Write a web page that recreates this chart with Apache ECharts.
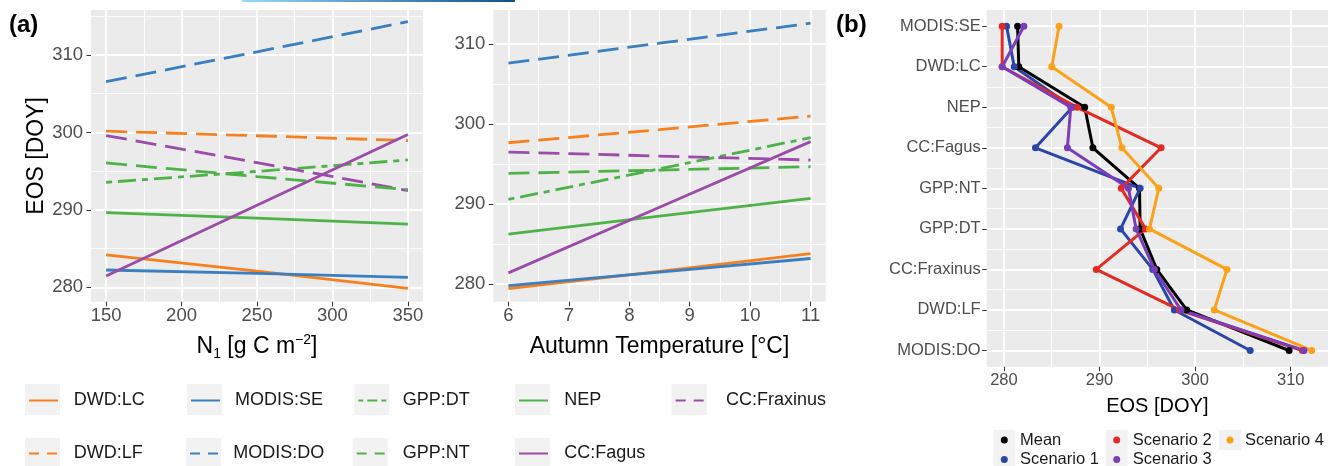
<!DOCTYPE html>
<html>
<head>
<meta charset="utf-8">
<script src="https://cdn.jsdelivr.net/npm/echarts@6.0.0/dist/echarts.min.js"></script>
<style>
  html, body { margin: 0; padding: 0; background: #fff; }
  #chart { width: 1328px; height: 466px; }
</style>
</head>
<body>
<div id="chart"></div>
<script>
// ---- panel (a), left: EOS vs N1 ----
const n1X = [150, 250, 350];
const n1DwdLc = [284.2, 282.1, 279.87];
const n1ModisSe = [282.24, 281.8, 281.3];
const n1GppDt = [293.55, 294.97, 296.45];
const n1Nep = [289.66, 288.94, 288.16];
const n1CcFraxinus = [299.6, 296.1, 292.5];
const n1DwdLf = [300.16, 299.57, 298.95];
const n1ModisDo = [306.55, 310.4, 314.3];
const n1GppNt = [296.06, 294.3, 292.6];
const n1CcFagus = [281.47, 290.6, 299.73];

// ---- panel (a), right: EOS vs autumn temperature ----
const tempX = [6, 8.5, 11];
const tDwdLc = [279.45, 281.6, 283.8];
const tModisSe = [279.8, 281.5, 283.2];
const tGppDt = [290.58, 294.4, 298.3];
const tNep = [286.25, 288.5, 290.7];
const tCcFraxinus = [296.5, 296.0, 295.5];
const tDwdLf = [297.66, 299.3, 301.0];
const tModisDo = [307.6, 310.1, 312.6];
const tGppNt = [293.83, 294.25, 294.67];
const tCcFagus = [281.4, 289.6, 297.8];

// ---- panel (b): EOS per method and scenario ----
const methods = ['MODIS:SE', 'DWD:LC', 'NEP', 'CC:Fagus', 'GPP:NT', 'GPP:DT', 'CC:Fraxinus', 'DWD:LF', 'MODIS:DO'];
const eosMean = [281.43, 281.56, 288.45, 289.31, 294.18, 294.25, 295.99, 299.12, 309.83];
const eosScen1 = [280.28, 281.08, 287.16, 283.3, 294.25, 292.2, 295.57, 297.83, 305.76];
const eosScen2 = [279.82, 279.82, 287.65, 296.44, 292.27, 294.81, 289.66, 298.35, 311.22];
const eosScen3 = [282.09, 279.82, 286.99, 286.64, 293.03, 293.83, 295.74, 298.53, 311.39];
const eosScen4 = [285.77, 285.0, 291.23, 292.34, 296.2, 295.23, 303.33, 302.0, 312.19];

// tick labels
const n1Ticks = [150, 200, 250, 300, 350];
const n1Minor = [175, 225, 275, 325];
const tempTicks = [6, 7, 8, 9, 10, 11];
const tempMinor = [6.5, 7.5, 8.5, 9.5, 10.5];
const eosTicks = [280, 290, 300, 310];
const eosMinorA = [285, 295, 305, 315];
const eosMinorB = [285, 295, 305];
const methodTicks = [0, 1, 2, 3, 4, 5, 6, 7, 8];
const methodMinor = [0.5, 1.5, 2.5, 3.5, 4.5, 5.5, 6.5, 7.5];

const FONT = "'Liberation Sans', Arial, sans-serif";
const ORANGE = '#F7801E', BLUE = '#3A7FC1', GREEN = '#4DB248', PURPLE = '#9A4CA8';
const LONGDASH = [21, 9];
const TWODASH = [6, 6, 18, 6];
// shorter patterns for the thinner legend keys
const KEY_DASH = { solid: 'solid', long: [10, 8], two: [5, 4, 10, 4] };

// name, colour, dash, values left, values right, legend dash
const lineDefs = [
  ['DWD:LC', ORANGE, 'solid', n1DwdLc, tDwdLc, 'solid'],
  ['MODIS:SE', BLUE, 'solid', n1ModisSe, tModisSe, 'solid'],
  ['GPP:DT', GREEN, TWODASH, n1GppDt, tGppDt, 'two'],
  ['NEP', GREEN, 'solid', n1Nep, tNep, 'solid'],
  ['CC:Fraxinus', PURPLE, LONGDASH, n1CcFraxinus, tCcFraxinus, 'long'],
  ['DWD:LF', ORANGE, LONGDASH, n1DwdLf, tDwdLf, 'long'],
  ['MODIS:DO', BLUE, LONGDASH, n1ModisDo, tModisDo, 'long'],
  ['GPP:NT', GREEN, LONGDASH, n1GppNt, tGppNt, 'long'],
  ['CC:Fagus', PURPLE, 'solid', n1CcFagus, tCcFagus, 'solid']
];

const scenDefs = [
  ['Mean', '#000000', eosMean],
  ['Scenario 1', '#2B45A8', eosScen1],
  ['Scenario 2', '#E32B24', eosScen2],
  ['Scenario 3', '#7B3DB8', eosScen3],
  ['Scenario 4', '#FBA11A', eosScen4]
];

function majorAxis(grid, min, max, ticks, extra) {
  return Object.assign({
    type: 'value', gridIndex: grid, min: min, max: max,
    axisLine: { show: false, onZero: false },
    axisTick: { show: true, length: 4.5, lineStyle: { color: '#333', width: 1 }, customValues: ticks },
    axisLabel: { customValues: ticks, color: '#4D4D4D', fontFamily: FONT, fontSize: 18.5, margin: 8 },
    splitLine: { show: true, lineStyle: { color: '#fff', width: 1.8 } },
    nameTextStyle: { color: '#000', fontFamily: FONT, fontSize: 23 }
  }, extra || {});
}
function minorAxis(grid, min, max, ticks, extra) {
  return Object.assign({
    type: 'value', gridIndex: grid, min: min, max: max,
    axisLine: { show: false, onZero: false },
    axisTick: { show: false, customValues: ticks },
    axisLabel: { show: false, customValues: ticks },
    splitLine: { show: true, lineStyle: { color: '#fff', width: 0.9 } }
  }, extra || {});
}

const richName = {
  n: { fontSize: 23, lineHeight: 28, fontFamily: FONT, color: '#000' },
  s: { fontSize: 14, lineHeight: 14, fontFamily: FONT, color: '#000', verticalAlign: 'bottom' },
  p: { fontSize: 14, lineHeight: 14, fontFamily: FONT, color: '#000', verticalAlign: 'top' }
};

const series = [];
lineDefs.forEach(function (d) {
  series.push({
    name: d[0], type: 'line', xAxisIndex: 0, yAxisIndex: 0, symbol: 'none',
    lineStyle: { color: d[1], width: 2.8, type: d[2] }, itemStyle: { color: d[1] },
    data: n1X.map(function (x, i) { return [x, d[3][i]]; })
  });
  series.push({
    name: d[0], type: 'line', xAxisIndex: 2, yAxisIndex: 2, symbol: 'none',
    lineStyle: { color: d[1], width: 2.8, type: d[2] }, itemStyle: { color: d[1] },
    data: tempX.map(function (x, i) { return [x, d[4][i]]; })
  });
});
scenDefs.forEach(function (d) {
  series.push({
    name: d[0], type: 'line', xAxisIndex: 4, yAxisIndex: 4,
    symbol: 'circle', symbolSize: 7,
    lineStyle: { color: d[1], width: 3 }, itemStyle: { color: d[1] },
    data: d[2].map(function (v, i) { return [v, i]; })
  });
});

// legend layout (panel a): box left, row, text start
const legA = [
  ['DWD:LC', 25, 0, 72.7], ['MODIS:SE', 187, 0, 234], ['GPP:DT', 354.3, 0, 401.7],
  ['NEP', 515, 0, 563.3], ['CC:Fraxinus', 671.7, 0, 725],
  ['DWD:LF', 25, 1, 72.7], ['MODIS:DO', 186, 1, 232.3], ['GPP:NT', 352.7, 1, 401.7],
  ['CC:Fagus', 515, 1, 563.3]
];
const rowBoxTop = [384, 438];
const rowCenter = [400.5, 453.5];
const legends = [];
const graphics = [];
legA.forEach(function (l) {
  const def = lineDefs.find(function (d) { return d[0] === l[0]; });
  graphics.push({ type: 'rect', z: 0, shape: { x: l[1], y: rowBoxTop[l[2]], width: 35, height: 31 }, style: { fill: '#F2F2F2' } });
  legends.push({
    data: [l[0]], left: l[1] + 3, top: rowCenter[l[2]] - 10, selectedMode: false,
    itemWidth: 29, itemHeight: 14, padding: 0,
    itemStyle: { opacity: 0 },
    lineStyle: { width: 2, type: KEY_DASH[def[5]] },
    textStyle: { fontFamily: FONT, fontSize: 18, color: '#1A1A1A', lineHeight: 20, padding: [0, 0, 0, l[3] - (l[1] + 3 + 29 + 5)] }
  });
});
// legend layout (panel b): dot centre x, row, text start
const legB = [
  ['Mean', 1004.3, 0, 1020], ['Scenario 1', 1004.3, 1, 1020],
  ['Scenario 2', 1116.7, 0, 1132.7], ['Scenario 3', 1116.7, 1, 1132.7],
  ['Scenario 4', 1230, 0, 1245]
];
const rowB = [440, 459.5];
legB.forEach(function (l) {
  graphics.push({ type: 'rect', z: 0, shape: { x: l[1] - 11, y: rowB[l[2]] - 10, width: 22, height: 20 }, style: { fill: '#F2F2F2' } });
  legends.push({
    data: [l[0]], left: l[1] - 3.5, top: rowB[l[2]] - 10, selectedMode: false,
    icon: 'circle', itemWidth: 7, itemHeight: 7, padding: 0,
    textStyle: { fontFamily: FONT, fontSize: 16.5, color: '#1A1A1A', lineHeight: 20, padding: [0, 0, 0, l[3] - (l[1] + 3.5 + 5)] }
  });
});
graphics.push({ type: 'text', left: 9, top: 13, style: { text: '(a)', font: "bold 24px 'Liberation Sans', Arial, sans-serif", fill: '#000' } });
graphics.push({ type: 'text', left: 836, top: 13, style: { text: '(b)', font: "bold 24px 'Liberation Sans', Arial, sans-serif", fill: '#000' } });
graphics.push({
  type: 'rect', z: 0, shape: { x: 242, y: 0, width: 273, height: 2 },
  style: { fill: new echarts.graphic.LinearGradient(0, 0, 1, 0, [{ offset: 0, color: '#9AD8F5' }, { offset: 1, color: '#0E4F8F' }]) }
});

const chart = echarts.init(document.getElementById('chart'), null, { renderer: 'canvas' });
chart.setOption({
  animation: false,
  backgroundColor: '#fff',
  grid: [
    { left: 91, top: 10, width: 332, height: 291.7, show: true, backgroundColor: '#EBEBEB', borderWidth: 0 },
    { left: 493.3, top: 10, width: 332.4, height: 291.7, show: true, backgroundColor: '#EBEBEB', borderWidth: 0 },
    { left: 986.7, top: 10, width: 342, height: 356.7, show: true, backgroundColor: '#EBEBEB', borderWidth: 0 }
  ],
  xAxis: [
    majorAxis(0, 140, 360, n1Ticks, {
      name: '{n|N}{s|1}{n| [g C m}{p|\u22122}{n|]}', nameLocation: 'middle', nameGap: 31,
      axisLabel: { customValues: n1Ticks, color: '#4D4D4D', fontFamily: FONT, fontSize: 18.5, margin: 5 },
      nameTextStyle: { rich: richName }
    }),
    minorAxis(0, 140, 360, n1Minor),
    majorAxis(1, 5.75, 11.25, tempTicks, {
      name: 'Autumn Temperature [\u00B0C]', nameLocation: 'middle', nameGap: 31,
      axisLabel: { customValues: tempTicks, color: '#4D4D4D', fontFamily: FONT, fontSize: 18.5, margin: 5 },
      nameTextStyle: { color: '#000', fontFamily: FONT, fontSize: 23, lineHeight: 28 }
    }),
    minorAxis(1, 5.75, 11.25, tempMinor),
    majorAxis(2, 278.2, 313.9, eosTicks, {
      name: 'EOS [DOY]', nameLocation: 'middle', nameGap: 22,
      axisLabel: { customValues: eosTicks, color: '#4D4D4D', fontFamily: FONT, fontSize: 16.5, margin: 5.5 },
      nameTextStyle: { color: '#000', fontFamily: FONT, fontSize: 20, lineHeight: 24 }
    }),
    minorAxis(2, 278.2, 313.9, eosMinorB)
  ],
  yAxis: [
    majorAxis(0, 278.15, 315.8, eosTicks, { name: 'EOS [DOY]', nameLocation: 'middle', nameGap: 43 }),
    minorAxis(0, 278.15, 315.8, eosMinorA),
    majorAxis(1, 277.8, 314.25, eosTicks),
    minorAxis(1, 277.8, 314.25, eosMinorB),
    majorAxis(2, -0.4, 8.4, methodTicks, {
      inverse: true,
      axisLabel: {
        customValues: methodTicks, color: '#4D4D4D', fontFamily: FONT, fontSize: 16.5, margin: 6,
        formatter: function (v) { return methods[Math.round(v)]; }
      }
    }),
    minorAxis(2, -0.4, 8.4, methodMinor, { inverse: true })
  ],
  legend: legends,
  graphic: graphics,
  series: series
});
</script>
</body>
</html>
